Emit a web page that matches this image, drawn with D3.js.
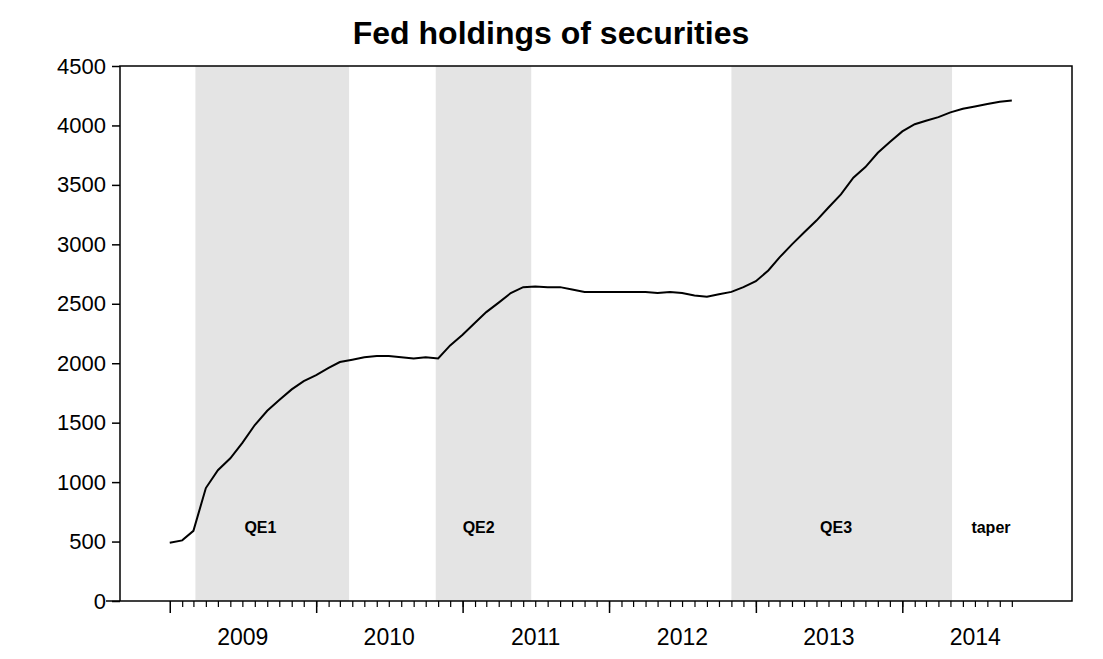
<!DOCTYPE html>
<html><head><meta charset="utf-8">
<script src="https://cdn.jsdelivr.net/npm/d3@7"></script>
<style>body{margin:0;background:#fff}text{font-family:"Liberation Sans",Arial,sans-serif}</style>
</head><body><svg id="c" width="1103" height="659"></svg>
<script>
var months = ["2009-01","2009-02","2009-03","2009-04","2009-05","2009-06","2009-07","2009-08","2009-09","2009-10","2009-11","2009-12",
  "2010-01","2010-02","2010-03","2010-04","2010-05","2010-06","2010-07","2010-08","2010-09","2010-10","2010-11","2010-12",
  "2011-01","2011-02","2011-03","2011-04","2011-05","2011-06","2011-07","2011-08","2011-09","2011-10","2011-11","2011-12",
  "2012-01","2012-02","2012-03","2012-04","2012-05","2012-06","2012-07","2012-08","2012-09","2012-10","2012-11","2012-12",
  "2013-01","2013-02","2013-03","2013-04","2013-05","2013-06","2013-07","2013-08","2013-09","2013-10","2013-11","2013-12",
  "2014-01","2014-02","2014-03","2014-04","2014-05","2014-06","2014-07","2014-08","2014-09","2014-10"];
var holdings = [490,510,590,950,1100,1200,1330,1480,1600,1690,1780,1850,
  1900,1960,2010,2030,2050,2060,2060,2050,2040,2050,2040,2150,
  2240,2340,2430,2510,2590,2640,2645,2640,2640,2620,2600,2600,
  2600,2600,2600,2600,2590,2600,2590,2570,2560,2580,2600,2640,
  2690,2780,2890,3000,3100,3200,3310,3420,3560,3650,3770,3860,
  3950,4010,4040,4070,4110,4140,4160,4180,4200,4210];
var regimes = [["QE1","2009-03-06","2010-03-24"],["QE2","2010-10-26","2011-06-21"],
  ["QE3","2012-11-01","2014-05-05"],["taper","2014-05-05",null]];
var yTicks = [0,500,1000,1500,2000,2500,3000,3500,4000,4500];
var years = [2009,2010,2011,2012,2013,2014];

var svg = d3.select('#c');
var L = 120, R = 1072, T = 66, B = 601;
var pd = d3.timeParse('%Y-%m-%d');
var x = d3.scaleTime().domain([pd('2008-08-30'), pd('2015-02-28')]).range([L, R]);
var y = d3.scaleLinear().domain([0, 4500]).range([B, T]);

regimes.forEach(function (r) {
  if (r[2]) {
    svg.append('rect').attr('x', x(pd(r[1]))).attr('y', T)
      .attr('width', x(pd(r[2])) - x(pd(r[1]))).attr('height', B - T).attr('fill', '#e4e4e4');
  }
});
var labelX = {QE1: '2009-08-15', QE2: '2011-02-10', QE3: '2013-07-20', taper: '2014-08-10'};
regimes.forEach(function (r) {
  svg.append('text').attr('x', x(pd(labelX[r[0]]))).attr('y', 533).attr('text-anchor', 'middle')
    .style('font-size', '16px').style('font-weight', 'bold').text(r[0]);
});

svg.append('rect').attr('x', L).attr('y', T).attr('width', R - L).attr('height', B - T)
  .attr('fill', 'none').attr('stroke', '#000').attr('stroke-width', 1.5);
svg.append('line').attr('x1', 106).attr('x2', L).attr('y1', B).attr('y2', B).attr('stroke', '#000').attr('stroke-width', 1.5);

var pm = d3.timeParse('%Y-%m');
var line = d3.line().x(function (d, i) { return x(pm(months[i])); })
  .y(function (d) { return y(d); });
svg.append('path').datum(holdings).attr('d', line).attr('fill', 'none').attr('stroke', '#000').attr('stroke-width', 2);

var ya = svg.append('g').attr('transform', 'translate(' + L + ',0)')
  .call(d3.axisLeft(y).tickValues(yTicks).tickSize(8).tickPadding(6).tickFormat(d3.format('d')));
ya.select('.domain').remove();
ya.selectAll('text').style('font-size', '22px');
ya.selectAll('line').attr('stroke-width', 1.5);

var minor = d3.timeMonth.range(pd('2009-02-01'), pd('2014-11-01'));
var xa = svg.append('g').attr('transform', 'translate(0,' + B + ')')
  .call(d3.axisBottom(x).tickValues(minor).tickSize(6).tickFormat(''));
xa.select('.domain').remove();
xa.selectAll('line').attr('stroke-width', 1.2);
var xb = svg.append('g').attr('transform', 'translate(0,' + B + ')')
  .call(d3.axisBottom(x).tickValues(years.map(function (v) { return new Date(v, 0, 1); })).tickSize(12).tickFormat(''));
xb.select('.domain').remove();
xb.selectAll('line').attr('stroke-width', 1.5);
years.forEach(function (v) {
  svg.append('text').attr('x', x(new Date(v, 6, 2))).attr('y', 645).attr('text-anchor', 'middle')
    .style('font-size', '23px').text(v);
});

svg.append('text').attr('x', 551).attr('y', 44).attr('text-anchor', 'middle')
  .style('font-size', '32px').style('font-weight', 'bold').text('Fed holdings of securities');
</script></body></html>
